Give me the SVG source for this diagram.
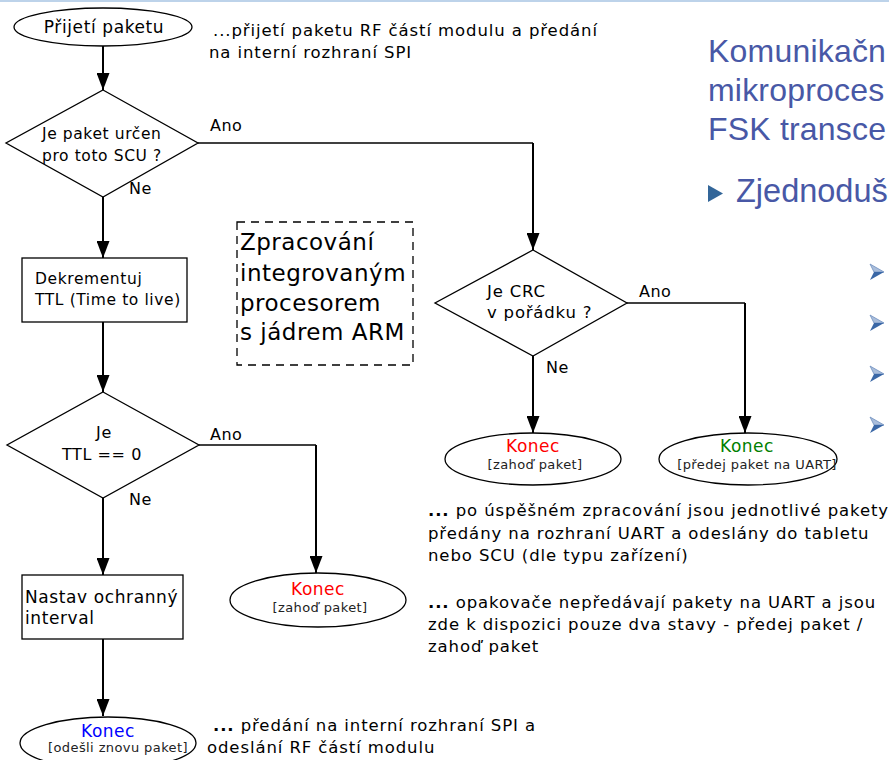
<svg xmlns="http://www.w3.org/2000/svg" width="889" height="760" viewBox="0 0 889 760">
  <defs>
    <marker id="arrow" markerUnits="userSpaceOnUse" markerWidth="17" markerHeight="13" refX="17" refY="6.5" orient="auto">
      <path d="M0,0 L17,6.5 L0,13 z" fill="#000"/>
    </marker>
    <style>
      .shape { fill: #fff; stroke: #000; stroke-width: 1.3; }
      .edge { fill: none; stroke: #000; stroke-width: 2; }
      .link { fill: none; stroke: #000; stroke-width: 1.5; }
      text { font-family: "DejaVu Sans", Verdana, sans-serif; fill: #000; }
      .lbl { font-size: 17px; letter-spacing: 0.6px; }
      .dia { font-size: 15.5px; letter-spacing: 0.6px; }
      .box { font-size: 15.5px; letter-spacing: 0.6px; }
      .yn { font-size: 16px; letter-spacing: 0.5px; }
      .end { font-size: 17px; letter-spacing: 0.5px; text-anchor: middle; }
      .sub { font-size: 13px; letter-spacing: 0.4px; fill: #222; text-anchor: middle; }
      .note { font-size: 16.5px; letter-spacing: 0.9px; }
      .big { font-size: 23px; letter-spacing: 0.5px; }
      .title { font-family: "Liberation Sans", Arial, sans-serif; font-size: 32px; fill: #4858a6; letter-spacing: 0.2px; }
    </style>
  </defs>

  <!-- slide top rule -->
  <rect x="0" y="0" width="889" height="2" fill="#bdd3ea"/>

  <!-- slide heading on the right -->
  <g id="heading">
    <text class="title" x="708" y="62">Komunikačn</text>
    <text class="title" x="708" y="101">mikroproces</text>
    <text class="title" x="708" y="140">FSK transce</text>
    <path d="M708,185 L723,193.5 L708,202 z" fill="#336699"/>
    <text class="title" x="736" y="202" style="font-size:32.5px;letter-spacing:0">Zjednoduš</text>
  </g>

  <!-- sub-bullets (arrowhead glyphs) -->
  <g id="bullets">
    <g transform="translate(870,264)">
      <path d="M0,0 L14,8 L4,8 z" fill="#a9bddb" stroke="#6f8fbf" stroke-width="0.8"/>
      <path d="M4,8 L14,8 L0,16 z" fill="#3a67a6"/>
    </g>
    <g transform="translate(870,315)">
      <path d="M0,0 L14,8 L4,8 z" fill="#a9bddb" stroke="#6f8fbf" stroke-width="0.8"/>
      <path d="M4,8 L14,8 L0,16 z" fill="#3a67a6"/>
    </g>
    <g transform="translate(870,366)">
      <path d="M0,0 L14,8 L4,8 z" fill="#a9bddb" stroke="#6f8fbf" stroke-width="0.8"/>
      <path d="M4,8 L14,8 L0,16 z" fill="#3a67a6"/>
    </g>
    <g transform="translate(870,417)">
      <path d="M0,0 L14,8 L4,8 z" fill="#a9bddb" stroke="#6f8fbf" stroke-width="0.8"/>
      <path d="M4,8 L14,8 L0,16 z" fill="#3a67a6"/>
    </g>
  </g>

  <!-- connectors -->
  <g id="connectors">
    <path class="edge" d="M103,46 L103,90" marker-end="url(#arrow)"/>
    <path class="link" d="M198,143 L533,143"/>
    <path class="edge" d="M533,143 L533,250" marker-end="url(#arrow)"/>
    <path class="edge" d="M103,197 L103,258" marker-end="url(#arrow)"/>
    <path class="edge" d="M103,322 L103,392" marker-end="url(#arrow)"/>
    <path class="link" d="M627,303 L745,303"/>
    <path class="edge" d="M745,303 L745,433" marker-end="url(#arrow)"/>
    <path class="edge" d="M533,356 L533,433" marker-end="url(#arrow)"/>
    <path class="link" d="M199,445 L316,445"/>
    <path class="edge" d="M316,445 L316,573" marker-end="url(#arrow)"/>
    <path class="edge" d="M103,498 L103,575" marker-end="url(#arrow)"/>
    <path class="edge" d="M103,639 L103,716" marker-end="url(#arrow)"/>
    <text class="yn" x="210" y="131">Ano</text>
    <text class="yn" x="129" y="194">Ne</text>
    <text class="yn" x="639" y="297">Ano</text>
    <text class="yn" x="546" y="373">Ne</text>
    <text class="yn" x="210" y="440">Ano</text>
    <text class="yn" x="129" y="505">Ne</text>
  </g>

  <g id="start">
    <ellipse class="shape" cx="103" cy="27" rx="89" ry="19"/>
    <text class="lbl" x="104" y="33" text-anchor="middle">Přijetí paketu</text>
  </g>

  <g id="is-for-scu">
    <path class="shape" d="M103,90 L198,143 L103,197 L6,143 z"/>
    <text class="dia" x="42" y="139">Je paket určen</text>
    <text class="dia" x="42" y="161">pro toto SCU ?</text>
  </g>

  <g id="decrement-ttl">
    <rect class="shape" x="22" y="258" width="165" height="64"/>
    <text class="box" x="35" y="284">Dekrementuj</text>
    <text class="box" x="35" y="305">TTL (Time to live)</text>
  </g>

  <g id="arm-note">
    <rect x="237" y="222" width="176" height="143" fill="none" stroke="#000" stroke-width="1.3" stroke-dasharray="8,6"/>
    <text class="big" x="240" y="250">Zpracování</text>
    <text class="big" x="240" y="281">integrovaným</text>
    <text class="big" x="240" y="311">procesorem</text>
    <text class="big" x="240" y="340">s jádrem ARM</text>
  </g>

  <g id="crc-ok">
    <path class="shape" d="M533,250 L627,303 L533,356 L435,303 z"/>
    <text class="dia" x="487" y="297" style="font-size:16.5px;letter-spacing:0.8px">Je CRC</text>
    <text class="dia" x="487" y="318" style="font-size:16.5px;letter-spacing:0.8px">v pořádku ?</text>
  </g>

  <g id="end-drop-crc">
    <ellipse class="shape" cx="533" cy="459" rx="88" ry="26"/>
    <text class="end" x="533" y="452" style="fill:#ff0000">Konec</text>
    <text class="sub" x="535" y="469">[zahoď paket]</text>
  </g>

  <g id="end-uart">
    <ellipse class="shape" cx="748" cy="459" rx="89" ry="26"/>
    <text class="end" x="747" y="452" style="fill:#008000">Konec</text>
    <text class="sub" x="757" y="469">[předej paket na UART]</text>
  </g>

  <g id="ttl-zero">
    <path class="shape" d="M103,392 L199,445 L103,498 L7,445 z"/>
    <text class="dia" x="104" y="438" text-anchor="middle" style="font-size:16px">Je</text>
    <text class="dia" x="102" y="460" text-anchor="middle" style="font-size:16px">TTL == 0</text>
  </g>

  <g id="end-drop-ttl">
    <ellipse class="shape" cx="318" cy="600" rx="88" ry="27"/>
    <text class="end" x="318" y="595" style="fill:#ff0000">Konec</text>
    <text class="sub" x="320" y="612">[zahoď paket]</text>
  </g>

  <g id="guard-interval">
    <rect class="shape" x="22" y="575" width="161" height="64"/>
    <text class="lbl" x="25" y="603">Nastav ochranný</text>
    <text class="lbl" x="25" y="624">interval</text>
  </g>

  <g id="end-resend">
    <ellipse class="shape" cx="108" cy="743" rx="88" ry="26"/>
    <text class="end" x="108" y="737" style="fill:#0000ff">Konec</text>
    <text class="sub" x="118" y="752">[odešli znovu paket]</text>
  </g>

  <!-- explanatory notes -->
  <g id="notes">
    <text class="note" x="213" y="36">...přijetí paketu RF částí modulu a předání</text>
    <text class="note" x="209" y="58">na interní rozhraní SPI</text>

    <text class="note" x="428" y="516"><tspan font-weight="bold">...</tspan> po úspěšném zpracování jsou jednotlivé pakety</text>
    <text class="note" x="428" y="539">předány na rozhraní UART a odeslány do tabletu</text>
    <text class="note" x="428" y="561">nebo SCU (dle typu zařízení)</text>

    <text class="note" x="428" y="608"><tspan font-weight="bold">...</tspan> opakovače nepředávají pakety na UART a jsou</text>
    <text class="note" x="428" y="630">zde k dispozici pouze dva stavy - předej paket /</text>
    <text class="note" x="428" y="652">zahoď paket</text>

    <text class="note" x="213" y="731"><tspan font-weight="bold">...</tspan> předání na interní rozhraní SPI a</text>
    <text class="note" x="207" y="753">odeslání RF částí modulu</text>
  </g>
</svg>
